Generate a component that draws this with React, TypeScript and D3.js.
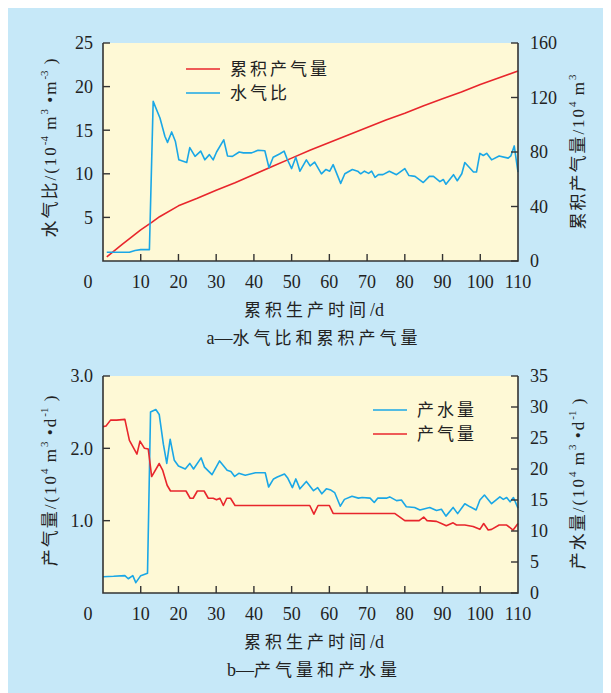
import React from 'react';
import { scaleLinear, line } from 'd3';

// x axis (days)
const dayTicks = [10, 20, 30, 40, 50, 60, 70, 80, 90, 100, 110];

// chart a: water/gas ratio (left) and cumulative gas (right)
const ratioTicks = [5, 10, 15, 20, 25];
const cumTicks = [0, 40, 80, 120, 160];
const cumDays = [1, 5, 10, 13, 15, 20, 25, 30, 35, 40, 45, 50, 55, 60, 65, 70, 75, 80, 85, 90, 95, 100, 105, 110];
const cumGas = [3, 12, 22.8, 28.5, 32.5, 40.5, 46, 52, 57.5, 63.5, 69.5, 75.5, 81.5, 87, 92.5, 98, 103.5, 108.5, 114, 119, 124, 129.5, 134.5, 139.5];
const ratioDays = [1, 7, 8.5, 10, 12.3, 13.3, 15.1, 16.4, 17.1, 18.2, 19.2, 20.1, 22.2, 23, 24.4, 25.9, 27, 28.2, 29.2, 30.1, 32, 33, 34.3, 36.1, 37.2, 39.4, 41.1, 42.9, 44, 45.1, 46.9, 48, 48.8, 50, 51.1, 52.2, 53.9, 54.9, 56.1, 57.9, 59.1, 60.1, 61, 63, 64.1, 66.1, 67.5, 68.3, 69.3, 70.4, 71.2, 72.1, 73, 74.2, 75.9, 77.8, 80, 81.1, 82.7, 84.9, 86.5, 87.6, 89.3, 90.2, 90.9, 92.9, 93.9, 95.1, 95.9, 98.2, 99, 99.9, 100.8, 101.7, 103, 105, 107.4, 108.1, 109, 110];
const ratioValues = [1, 1, 1.2, 1.3, 1.3, 18.3, 16.4, 14.3, 13.6, 14.8, 13.7, 11.6, 11.3, 13, 12, 12.6, 11.6, 12.2, 11.6, 12.5, 13.9, 12.05, 12, 12.5, 12.4, 12.4, 12.7, 12.65, 10.7, 11.9, 12.3, 12.6, 11.7, 10.6, 11.9, 10.3, 11.6, 10.9, 11.35, 10, 10.5, 10.3, 11.05, 8.9, 10, 10.5, 10.3, 10, 10.3, 10.05, 10.3, 9.6, 9.9, 9.9, 10.3, 9.9, 10.6, 9.8, 9.7, 9, 9.7, 9.7, 9.1, 9.35, 8.8, 9.9, 9.2, 10, 11.3, 10.2, 10.2, 12.35, 12.1, 12.35, 11.6, 12.05, 11.8, 12.05, 13.2, 10.2];

// chart b: gas rate (left) and water rate (right)
const gasTicks = [1.0, 2.0, 3.0];
const waterTicks = [0, 5, 10, 15, 20, 25, 30, 35];
const gasDays = [0, 0.8, 2, 3.6, 5.8, 7, 9, 9.8, 11, 12, 12.9, 14.9, 15.8, 17, 17.9, 22, 23.1, 23.9, 25, 26.8, 27.9, 29.2, 30.1, 31, 31.9, 32.8, 33.8, 35, 54.8, 55.9, 57, 60, 61, 77.3, 80, 83.8, 85, 85.9, 88.4, 89.7, 91, 92.8, 93.7, 95.9, 98.1, 99.9, 100.9, 102.1, 103, 105, 107, 108.7, 110];
const gasRate = [2.3, 2.31, 2.39, 2.39, 2.4, 2.11, 1.92, 2.1, 2.0, 1.99, 1.61, 1.79, 1.7, 1.49, 1.41, 1.41, 1.31, 1.31, 1.41, 1.41, 1.31, 1.31, 1.29, 1.31, 1.21, 1.31, 1.31, 1.21, 1.21, 1.09, 1.21, 1.21, 1.1, 1.1, 1.0, 1.0, 1.05, 1.0, 0.99, 0.96, 0.93, 0.97, 0.94, 0.94, 0.92, 0.88, 0.96, 0.87, 0.88, 0.94, 0.94, 0.87, 0.96];
const waterDays = [0, 2.8, 5.8, 6.7, 7.9, 8.7, 10, 11.8, 12.6, 14, 14.9, 16, 16.9, 17.8, 18.9, 20, 21.8, 23, 24, 26, 26.9, 28.9, 30.9, 32.9, 33.9, 34.9, 36, 37.7, 40.4, 43, 43.9, 45.2, 46.2, 48.1, 49, 50.2, 51.1, 52.2, 53.9, 55.8, 56.9, 58, 59.2, 60.4, 61.4, 62.9, 64, 66, 67.7, 68.7, 70.8, 71.9, 72.8, 75.1, 76, 77.8, 79.1, 80.4, 82.6, 84, 86.6, 88.4, 89.7, 90.9, 92.8, 94, 95.9, 97.3, 98.9, 99.9, 101.1, 103, 105.2, 106.1, 107, 107.9, 108.8, 110];
const waterRate = [2.63, 2.69, 2.8, 2.3, 2.8, 1.67, 2.8, 3.17, 29.2, 29.6, 28.8, 24, 20.9, 24.8, 21.4, 20.5, 20, 20.9, 20, 21.8, 20.3, 19.1, 21.3, 19.8, 19.6, 18.8, 19.3, 19, 19.4, 19.4, 17.1, 18.4, 18.7, 19.2, 18.5, 17, 18.4, 16.8, 18, 16.5, 17, 16, 16.8, 16.6, 16.2, 14, 15.1, 15.6, 15.3, 15.4, 15.3, 14.6, 15.3, 15.3, 15.5, 14.9, 15, 13.9, 13.8, 13.4, 13.8, 13.3, 13.5, 12.4, 13.8, 12.8, 14.4, 13.9, 13.4, 15, 15.8, 14.4, 15.5, 15.1, 15.4, 14.7, 15.4, 13.7];

const RED = '#E8262C';
const BLUE = '#1AA7E6';
const AXIS = '#333';
const FONT = "'Liberation Serif', 'Times New Roman', 'Noto Sans CJK SC', serif";

const PL = 103;
const PR = 518;

const x = scaleLinear().domain([0, 110]).range([PL, PR]);

function Panel({ top, bottom, leftDomain, rightDomain, leftTicks, rightTicks, fmtLeft, series, legend, legendX, legendY, leftTitle, rightTitle, captionLetter, caption }: any) {
  const yl = scaleLinear().domain(leftDomain).range([bottom, top]);
  const yr = scaleLinear().domain(rightDomain).range([bottom, top]);
  return (
    <g fontFamily={FONT} fill="#222">
      <rect x={PL} y={top} width={PR - PL} height={bottom - top} fill="#FEF9D6" />
      {series.map((s: any, i: number) => {
        const sc = s.axis === 'left' ? yl : yr;
        const pts = s.xs.map((d: number, j: number) => [d, s.ys[j]]);
        const path = line<any>().x((p) => x(p[0])).y((p) => sc(p[1]))(pts);
        return <path key={i} d={path || ''} fill="none" stroke={s.color} strokeWidth={1.6} strokeLinejoin="round" />;
      })}
      {/* axes */}
      <path d={`M${PL},${top}V${bottom}H${PR}V${top}`} fill="none" stroke={AXIS} strokeWidth={1.6} />
      {dayTicks.map((t) => (
        <g key={'x' + t}>
          {t < 110 && <line x1={x(t)} x2={x(t)} y1={bottom} y2={bottom - 7} stroke={AXIS} strokeWidth={1.4} />}
          <text x={x(t)} y={bottom + 21} dy="0.35em" textAnchor="middle" fontSize={18}>{t}</text>
        </g>
      ))}
      <text x={88} y={bottom + 21} dy="0.35em" textAnchor="middle" fontSize={18}>0</text>
      {leftTicks.map((t: number) => (
        <g key={'l' + t}>
          <line x1={PL} x2={PL + 7} y1={yl(t)} y2={yl(t)} stroke={AXIS} strokeWidth={1.4} />
          <text x={93} y={yl(t)} dy="0.35em" textAnchor="end" fontSize={18}>{fmtLeft(t)}</text>
        </g>
      ))}
      {rightTicks.map((t: number) => (
        <g key={'r' + t}>
          <line x1={PR} x2={PR - 7} y1={yr(t)} y2={yr(t)} stroke={AXIS} strokeWidth={1.4} />
          <text x={530} y={yr(t)} dy="0.35em" textAnchor="start" fontSize={18}>{t}</text>
        </g>
      ))}
      {legend.map((l: any, i: number) => (
        <g key={'lg' + i}>
          <line x1={legendX} x2={legendX + 34} y1={legendY + i * 24} y2={legendY + i * 24} stroke={l.color} strokeWidth={1.6} />
          <text x={legendX + 44} y={legendY + i * 24} dy="0.35em" fontSize={17} letterSpacing={3}>{l.label}</text>
        </g>
      ))}
      <text transform={`translate(50,${leftTitle.cy}) rotate(-90)`} textAnchor="middle" dy="0.35em" fontSize={17} letterSpacing={2}>
        {leftTitle.parts}
      </text>
      <text transform={`translate(578,${rightTitle.cy}) rotate(-90)`} textAnchor="middle" dy="0.35em" fontSize={17} letterSpacing={2}>
        {rightTitle.parts}
      </text>
      <text x={314} y={bottom + 49} dy="0.35em" textAnchor="middle" fontSize={17}>
        <tspan letterSpacing={4}>累积生产时间</tspan>
        <tspan letterSpacing={0} fontSize={18}>/d</tspan>
      </text>
      <text x={314} y={bottom + 77} dy="0.35em" textAnchor="middle" fontSize={17}>
        <tspan letterSpacing={0} fontSize={18}>{captionLetter}—</tspan>
        <tspan letterSpacing={4}>{caption}</tspan>
      </text>
    </g>
  );
}

const sup = (s: string) => [
  <tspan key={s + 'a'} dy={-8} fontSize={11} letterSpacing={0}>{s}</tspan>,
  <tspan key={s + 'b'} dy={8}>{' '}</tspan>,
];

export default function App() {
  return (
    <svg width={611} height={693} style={{ position: 'absolute', left: 0, top: 0 }}>
      <rect x={8} y={8} width={595} height={685} fill="#C6E8F8" />
      <Panel
        top={43}
        bottom={261}
        leftDomain={[0, 25]}
        rightDomain={[0, 160]}
        leftTicks={ratioTicks}
        rightTicks={cumTicks}
        fmtLeft={(t: number) => String(t)}
        series={[
          { xs: cumDays, ys: cumGas, axis: 'right', color: RED },
          { xs: ratioDays, ys: ratioValues, axis: 'left', color: BLUE },
        ]}
        legend={[
          { label: '累积产气量', color: RED },
          { label: '水气比', color: BLUE },
        ]}
        legendX={186}
        legendY={69}
        leftTitle={{ cy: 147, parts: [<tspan key="t">水气比/(10</tspan>, ...sup('-4'), <tspan key="m">m</tspan>, ...sup('3'), <tspan key="b">•m</tspan>, ...sup('-3'), <tspan key="c">)</tspan>] }}
        rightTitle={{ cy: 152, parts: [<tspan key="t">累积产气量/10</tspan>, ...sup('4'), <tspan key="m">m</tspan>, ...sup('3')] }}
        captionLetter="a"
        caption="水气比和累积产气量"
      />
      <Panel
        top={376}
        bottom={593}
        leftDomain={[0, 3]}
        rightDomain={[0, 35]}
        leftTicks={gasTicks}
        rightTicks={waterTicks}
        fmtLeft={(t: number) => t.toFixed(1)}
        series={[
          { xs: waterDays, ys: waterRate, axis: 'right', color: BLUE },
          { xs: gasDays, ys: gasRate, axis: 'left', color: RED },
        ]}
        legend={[
          { label: '产水量', color: BLUE },
          { label: '产气量', color: RED },
        ]}
        legendX={373}
        legendY={410}
        leftTitle={{ cy: 480, parts: [<tspan key="t">产气量/(10</tspan>, ...sup('4'), <tspan key="m">m</tspan>, ...sup('3'), <tspan key="b">•d</tspan>, ...sup('-1'), <tspan key="c">)</tspan>] }}
        rightTitle={{ cy: 483, parts: [<tspan key="t">产水量/(10</tspan>, ...sup('4'), <tspan key="m">m</tspan>, ...sup('3'), <tspan key="b">•d</tspan>, ...sup('-1'), <tspan key="c">)</tspan>] }}
        captionLetter="b"
        caption="产气量和产水量"
      />
    </svg>
  );
}
